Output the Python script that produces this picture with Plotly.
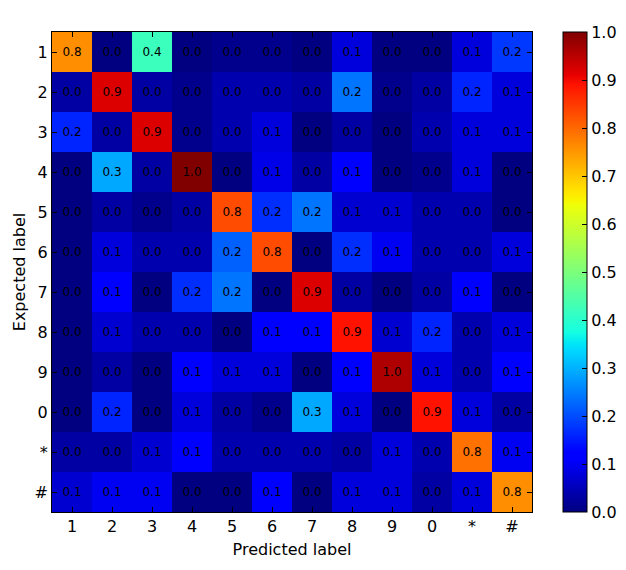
import plotly.graph_objects as go
import numpy as np

labels = ["1", "2", "3", "4", "5", "6", "7", "8", "9", "0", "*", "#"]

row_1 = [0.76, 0.00, 0.42, 0.00, 0.01, 0.01, 0.00, 0.08, 0.00, 0.00, 0.08, 0.18]
row_2 = [0.03, 0.92, 0.03, 0.01, 0.04, 0.04, 0.03, 0.24, 0.01, 0.03, 0.16, 0.08]
row_3 = [0.16, 0.03, 0.92, 0.01, 0.04, 0.08, 0.00, 0.03, 0.00, 0.04, 0.08, 0.08]
row_4 = [0.00, 0.29, 0.03, 1.00, 0.00, 0.09, 0.03, 0.11, 0.00, 0.01, 0.08, 0.00]
row_5 = [0.00, 0.03, 0.01, 0.03, 0.83, 0.17, 0.24, 0.07, 0.07, 0.04, 0.04, 0.00]
row_6 = [0.00, 0.08, 0.04, 0.04, 0.22, 0.83, 0.00, 0.17, 0.10, 0.04, 0.04, 0.08]
row_7 = [0.00, 0.11, 0.00, 0.17, 0.24, 0.00, 0.92, 0.03, 0.00, 0.03, 0.11, 0.00]
row_8 = [0.00, 0.07, 0.04, 0.04, 0.00, 0.11, 0.11, 0.89, 0.07, 0.16, 0.04, 0.08]
row_9 = [0.00, 0.03, 0.00, 0.11, 0.08, 0.08, 0.00, 0.11, 0.96, 0.08, 0.04, 0.11]
row_0 = [0.00, 0.16, 0.00, 0.08, 0.03, 0.01, 0.29, 0.08, 0.00, 0.89, 0.08, 0.03]
row_star = [0.03, 0.03, 0.07, 0.11, 0.04, 0.04, 0.04, 0.03, 0.08, 0.04, 0.79, 0.10]
row_hash = [0.07, 0.10, 0.10, 0.00, 0.00, 0.11, 0.00, 0.08, 0.08, 0.03, 0.08, 0.76]

z = [row_1, row_2, row_3, row_4, row_5, row_6, row_7, row_8, row_9, row_0, row_star, row_hash]

# matplotlib 'jet' colormap from its segment data
red = [(0, 0), (0.35, 0), (0.66, 1), (0.89, 1), (1, 0.5)]
green = [(0, 0), (0.125, 0), (0.375, 1), (0.64, 1), (0.91, 0), (1, 0)]
blue = [(0, 0.5), (0.11, 1), (0.34, 1), (0.65, 0), (1, 0)]
stops = sorted(set([p for p, _ in red] + [p for p, _ in green] + [p for p, _ in blue]))
def interp(seg, x):
    xs = [p for p, _ in seg]; vs = [v for _, v in seg]
    return float(np.interp(x, xs, vs))
jet = [[s, "rgb(%d,%d,%d)" % (round(255 * interp(red, s)), round(255 * interp(green, s)), round(255 * interp(blue, s)))] for s in stops]

font = "DejaVu Sans"

fig = go.Figure(go.Heatmap(
    z=z, x=labels, y=labels,
    colorscale=jet, zmin=0, zmax=1,
    texttemplate="%{z:.1f}",
    textfont=dict(family=font, size=12, color="black"),
    colorbar=dict(
        x=1.0646, xanchor="left", y=0.5, yanchor="middle",
        len=1, lenmode="fraction", thickness=24, thicknessmode="pixels",
        outlinecolor="black", outlinewidth=1,
        tickvals=[round(0.1 * i, 1) for i in range(11)],
        ticktext=["%.1f" % (0.1 * i) for i in range(11)],
        ticks="inside", ticklen=5, tickcolor="black",
        tickfont=dict(family=font, size=16, color="black"),
        xpad=0, ypad=0,
    ),
))

# page body has an 8px margin: figure is sized to fit the 626x570 window
fig.update_layout(
    width=610, height=554,
    margin=dict(l=44, r=86, t=24, b=50, autoexpand=False),
    paper_bgcolor="white", plot_bgcolor="white",
    font=dict(family=font, color="black"),
)
fig.update_xaxes(
    type="category", showgrid=False, zeroline=False, automargin=False,
    showline=True, linecolor="black", linewidth=1, mirror="ticks",
    ticks="inside", ticklen=5, tickcolor="black",
    tickfont=dict(family=font, size=16, color="black"),
    title=dict(text="Predicted label", font=dict(family=font, size=16, color="black"), standoff=8),
)
fig.update_yaxes(
    type="category", autorange="reversed", showgrid=False, zeroline=False, automargin=False,
    showline=True, linecolor="black", linewidth=1, mirror="ticks",
    ticks="inside", ticklen=5, tickcolor="black",
    tickfont=dict(family=font, size=16, color="black"),
    title=dict(text="Expected label", font=dict(family=font, size=16, color="black"), standoff=4),
)

fig.write_html("out.html")
